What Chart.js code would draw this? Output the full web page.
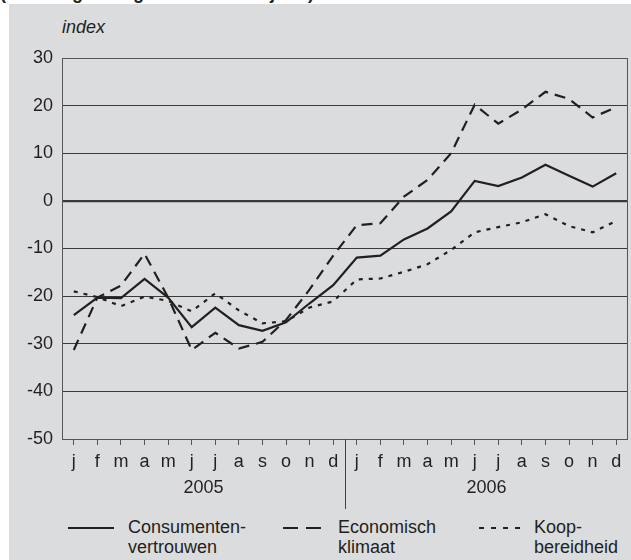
<!DOCTYPE html>
<html>
<head>
<meta charset="utf-8">
<script src="https://cdn.jsdelivr.net/npm/chart.js@4"></script>
<style>
  body { margin: 0; width: 631px; height: 560px; overflow: hidden; background: #fff;
         font-family: "Liberation Sans", Arial, sans-serif; color: #231f20; position: relative; }
  #panel { position: absolute; left: 9px; top: 4px; right: 0; bottom: 0; background: #dbdcde; }
  #header { position: absolute; left: 0; top: -17px; font-weight: bold; font-size: 18px; white-space: nowrap; }
  #unit { position: absolute; left: 62px; top: 17px; font-style: italic; font-size: 18px; }
  #chart-box { position: absolute; left: 0; top: 0; width: 631px; height: 515px; }
  .legend-item { position: absolute; top: 517px; font-size: 18px; line-height: 20px; }
  .legend-line { position: absolute; top: 526px; }
</style>
</head>
<body>
<div id="panel"></div>
<div id="header">(seizoengecorrigeerde maandcijfers)</div>
<div id="unit">index</div>
<div id="chart-box"><canvas id="chart" width="631" height="515"></canvas></div>

<svg class="legend-line" style="left:68px" width="46" height="4"><line x1="0" y1="2" x2="46" y2="2" stroke="#231f20" stroke-width="2.2"/></svg>
<div class="legend-item" style="left:128px">Consumenten-<br>vertrouwen</div>
<svg class="legend-line" style="left:283px" width="38" height="4"><line x1="0" y1="2" x2="38" y2="2" stroke="#231f20" stroke-width="2.2" stroke-dasharray="15 8"/></svg>
<div class="legend-item" style="left:338px">Economisch<br>klimaat</div>
<svg class="legend-line" style="left:479px" width="44" height="4"><line x1="0" y1="2" x2="44" y2="2" stroke="#231f20" stroke-width="2.2" stroke-dasharray="5 7"/></svg>
<div class="legend-item" style="left:534px">Koop-<br>bereidheid</div>

<script>
// months 2005 + 2006
const months = ['j', 'f', 'm', 'a', 'm', 'j', 'j', 'a', 's', 'o', 'n', 'd',
                'j', 'f', 'm', 'a', 'm', 'j', 'j', 'a', 's', 'o', 'n', 'd'];
const years = ['2005', '2006'];

const consumentenvertrouwen = [-24, -20.3, -20.4, -16.4, -20.3, -26.5, -22.4, -26.1, -27.3, -25.5, -21.5, -17.7,
                               -11.9, -11.5, -8.1, -5.8, -2.2, 4.2, 3.1, 4.9, 7.6, 5.3, 3, 5.8];
const economischKlimaat = [-31.3, -20.3, -17.8, -11.1, -20.3, -31.3, -27.7, -31, -29.6, -25, -18.6, -11.5,
                           -5.1, -4.7, 0.9, 4.4, 10, 20.2, 16.2, 19.2, 22.9, 21.4, 17.5, 19.7];
const koopbereidheid = [-19, -20.2, -22.1, -20.1, -21, -23.2, -19.4, -23, -25.7, -25.3, -22.4, -21.1,
                        -16.5, -16.3, -14.9, -13.3, -10.3, -6.6, -5.5, -4.5, -2.8, -5.3, -6.6, -4.2];

const ink = '#231f20';
const font = { family: '"Liberation Sans", Arial, sans-serif', size: 18 };

// frame, year labels and the 2005/2006 divider
const extras = {
    id: 'extras',
    afterDraw(chart) {
        const ctx = chart.ctx;
        const area = chart.chartArea;
        const x = chart.scales.x;

        ctx.save();
        ctx.strokeStyle = '#555';
        ctx.lineWidth = 1;
        ctx.strokeRect(area.left + 0.5, area.top + 0.5, area.right - area.left - 1, area.bottom - area.top);

        const split = (x.getPixelForValue(11) + x.getPixelForValue(12)) / 2;
        ctx.strokeStyle = '#444';
        ctx.beginPath();
        ctx.moveTo(Math.round(split) + 0.5, area.bottom);
        ctx.lineTo(Math.round(split) + 0.5, 509);
        ctx.stroke();

        ctx.fillStyle = ink;
        ctx.font = font.size + 'px ' + font.family;
        ctx.textAlign = 'center';
        ctx.textBaseline = 'middle';
        ctx.fillText(years[0], (x.getPixelForValue(0) + x.getPixelForValue(11)) / 2, 488);
        ctx.fillText(years[1], (x.getPixelForValue(12) + x.getPixelForValue(23)) / 2, 488);
        ctx.restore();
    }
};

new Chart(document.getElementById('chart'), {
    type: 'line',
    data: {
        labels: months,
        datasets: [
            { label: 'Consumentenvertrouwen', data: consumentenvertrouwen, borderColor: ink, borderWidth: 2.2 },
            { label: 'Economisch klimaat', data: economischKlimaat, borderColor: ink, borderWidth: 2.2, borderDash: [11, 7] },
            { label: 'Koopbereidheid', data: koopbereidheid, borderColor: ink, borderWidth: 2.2, borderDash: [4, 6] }
        ]
    },
    plugins: [extras],
    options: {
        responsive: false,
        animation: false,
        devicePixelRatio: 1,
        elements: { point: { radius: 0 }, line: { tension: 0, borderCapStyle: 'butt' } },
        layout: { padding: { top: 58, right: 3, left: 0, bottom: 0 } },
        plugins: { legend: { display: false }, tooltip: { enabled: false } },
        scales: {
            x: {
                type: 'category',
                offset: true,
                grid: { drawOnChartArea: false, offset: false, tickLength: 6, color: '#555' },
                border: { display: false },
                ticks: { color: ink, font: font, padding: 6, maxRotation: 0, autoSkip: false },
                afterFit(scale) { scale.height = 76; }
            },
            y: {
                min: -50,
                max: 30,
                grid: {
                    drawTicks: false,
                    color: '#3a3a3a',
                    lineWidth: ctx => (ctx.tick && ctx.tick.value === 0 ? 2.2 : 1)
                },
                border: { display: false },
                ticks: { stepSize: 10, color: ink, font: font, padding: 9 },
                afterFit(scale) { scale.width = 62; }
            }
        }
    }
});
</script>
</body>
</html>
